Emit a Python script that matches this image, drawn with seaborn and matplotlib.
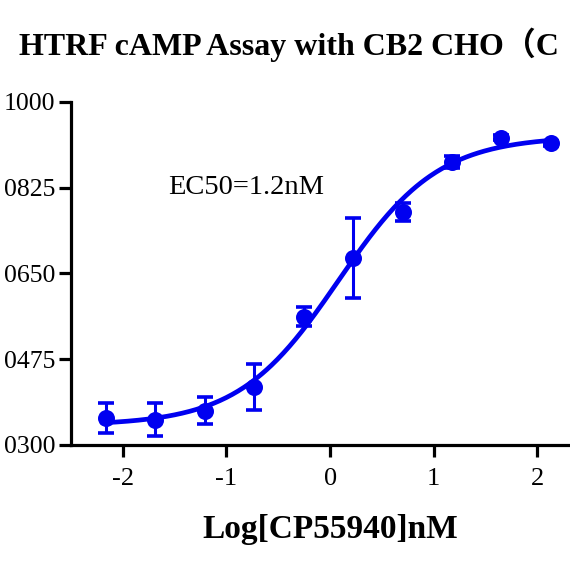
import numpy as np
import pandas as pd
import seaborn as sns
import matplotlib.pyplot as plt

# measured points (log nM) with mean and SD
log_conc = [-2.16, -1.69, -1.21, -0.73, -0.25, 0.22, 0.70, 1.18, 1.65, 2.13]
signal = [355, 352, 370, 418, 562, 682, 776, 878, 927, 916]
signal_sd = [30, 34, 27, 47, 20, 82, 18, 12, 5, 5]

# 4PL fit parameters
fit_bottom = 340
fit_top = 930
fit_logec50 = np.log10(1.2)
fit_hill = 0.9

y_ticks = [300, 475, 650, 825, 1000]
x_ticks = [-2, -1, 0, 1, 2]

blue = '#0000F0'

sns.set_style('ticks')
plt.rcParams['font.family'] = ['Liberation Serif', 'Noto Sans CJK SC']
plt.rcParams['text.color'] = 'black'
plt.rcParams['axes.labelcolor'] = 'black'

points = pd.DataFrame({'x': log_conc, 'y': signal})
xs = np.linspace(-2.2, 2.16, 300)
curve = pd.DataFrame({'x': xs,
                      'y': fit_bottom + (fit_top - fit_bottom) /
                      (1 + 10 ** ((fit_logec50 - xs) * fit_hill))})

fig = plt.figure(figsize=(5.7, 5.7), dpi=100)
ax = fig.add_axes([0.1246, 0.2193, 0.909, 0.6018])

sns.lineplot(data=curve, x='x', y='y', ax=ax, color=blue, linewidth=3.4)
ax.errorbar(log_conc, signal, yerr=signal_sd, fmt='none', ecolor=blue,
            elinewidth=2.2, capsize=5.5, capthick=2.6, zorder=3)
sns.scatterplot(data=points, x='x', y='y', ax=ax, color=blue, s=150,
                edgecolor=blue, linewidth=0, zorder=4)

ax.set_xlim(-2.5, 2.5)
ax.set_ylim(300, 1000)
ax.set_xticks(x_ticks)
ax.set_xticklabels([str(t) for t in x_ticks])
ax.set_yticks(y_ticks)
ax.set_yticklabels(['{:04d}'.format(t) for t in y_ticks])

for side in ['top', 'right']:
    ax.spines[side].set_visible(False)
for side in ['left', 'bottom']:
    ax.spines[side].set_linewidth(2.3)
    ax.spines[side].set_color('black')

ax.tick_params(axis='x', length=8.6, width=2.3, pad=8, labelsize=19, colors='black')
ax.tick_params(axis='y', length=9, width=2.3, pad=2.5, labelsize=18.5, colors='black')

ax.set_xlabel('Log[CP55940]nM', fontsize=24, fontweight='bold', va='baseline')
ax.xaxis.set_label_coords(0.5, -0.271)
ax.set_ylabel('')

ax.text(168 / 570, 1 - 194 / 570, 'EC50=1.2nM', transform=fig.transFigure,
        fontsize=20.5, va='baseline', ha='left')

fig.text(19 / 570, 1 - 55 / 570, 'HTRF cAMP Assay with CB2 CHO（C',
         fontsize=23, fontweight='bold', va='baseline', ha='left')

fig.savefig('out.png', dpi=100)
